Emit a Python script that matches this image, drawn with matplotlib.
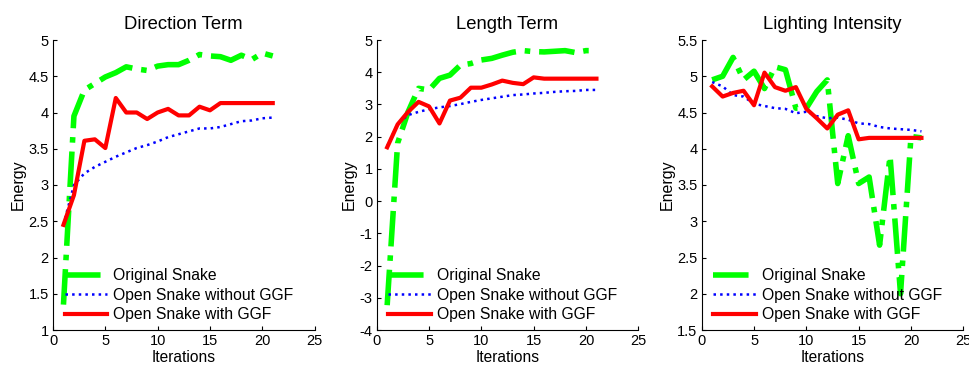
import matplotlib
matplotlib.use("Agg")
import matplotlib.pyplot as plt
import numpy as np

plt.rcParams['font.family'] = ['Liberation Sans', 'DejaVu Sans']

iterations = list(range(1, 22))
labels = ["Original Snake", "Open Snake without GGF", "Open Snake with GGF"]

# Direction Term
dir_orig = [1.35, 3.95, 4.31, 4.40, 4.49, 4.55, 4.63, 4.60, 4.58, 4.64, 4.66,
            4.66, 4.72, 4.80, 4.78, 4.77, 4.72, 4.79, 4.73, 4.82, 4.78]
dir_open = [2.45, 3.00, 3.16, 3.25, 3.32, 3.39, 3.45, 3.51, 3.55, 3.60, 3.66,
            3.70, 3.74, 3.78, 3.78, 3.80, 3.84, 3.88, 3.89, 3.92, 3.93]
dir_ggf = [2.45, 2.86, 3.61, 3.63, 3.51, 4.20, 4.00, 4.00, 3.91, 4.00, 4.05,
           3.96, 3.96, 4.08, 4.03, 4.13, 4.13, 4.13, 4.13, 4.13, 4.13]

# Length Term
len_orig = [-3.23, 1.80, 2.77, 3.50, 3.45, 3.81, 3.91, 4.22, 4.27, 4.38, 4.43,
            4.53, 4.62, 4.67, 4.64, 4.63, 4.65, 4.67, 4.61, 4.67, 4.67]
len_open = [1.70, 2.40, 2.67, 2.77, 2.85, 2.91, 2.95, 3.01, 3.08, 3.14, 3.19,
            3.24, 3.29, 3.31, 3.34, 3.36, 3.39, 3.41, 3.42, 3.45, 3.45]
len_ggf = [1.67, 2.38, 2.77, 3.08, 2.94, 2.41, 3.12, 3.21, 3.52, 3.52, 3.62,
           3.74, 3.67, 3.63, 3.84, 3.80, 3.80, 3.80, 3.80, 3.80, 3.80]

# Lighting Intensity
light_orig = [4.95, 5.00, 5.26, 4.95, 5.07, 4.83, 5.13, 5.09, 4.56, 4.56, 4.79,
              4.95, 3.52, 4.18, 3.52, 3.61, 2.67, 3.90, 2.00, 4.17, 4.15]
light_open = [4.92, 4.86, 4.74, 4.72, 4.62, 4.59, 4.56, 4.55, 4.49, 4.51, 4.45,
              4.42, 4.43, 4.40, 4.35, 4.34, 4.30, 4.28, 4.27, 4.26, 4.24]
light_ggf = [4.86, 4.72, 4.77, 4.80, 4.60, 5.05, 4.85, 4.80, 4.85, 4.55, 4.42,
             4.28, 4.47, 4.53, 4.13, 4.15, 4.15, 4.15, 4.15, 4.15, 4.15]

panels = [
    ("Direction Term", dir_orig, dir_open, dir_ggf, (1, 5), np.arange(1, 5.01, 0.5)),
    ("Length Term", len_orig, len_open, len_ggf, (-4, 5), np.arange(-4, 5.01, 1)),
    ("Lighting Intensity", light_orig, light_open, light_ggf, (1.5, 5.5), np.arange(1.5, 5.51, 0.5)),
]

fig = plt.figure(figsize=(9.69, 3.65), dpi=100)
lefts = [53, 376.7, 701.7]
W, H = 969.0, 365.0

for left, (title, orig, opn, ggf, ylim, yticks) in zip(lefts, panels):
    ax = fig.add_axes([left / W, (H - 330) / H, 261.6 / W, 290 / H])
    ax.plot(iterations, orig, color='#00ff00', linestyle='-.', linewidth=4, label=labels[0])
    ax.plot(iterations, opn, color='#0000ff', linestyle=':', linewidth=1.8, label=labels[1])
    ax.plot(iterations, ggf, color='#ff0000', linestyle='-', linewidth=3, label=labels[2])
    ax.set_xlim(0, 25)
    ax.set_ylim(*ylim)
    ax.set_xticks(range(0, 26, 5))
    ax.set_yticks(yticks)
    ax.set_yticklabels(['%g' % t for t in yticks])
    ax.spines['top'].set_visible(False)
    ax.spines['right'].set_visible(False)
    ax.tick_params(direction='in', labelsize=10.5, length=3, pad=3)
    ax.set_title(title, fontsize=13.3, pad=8)
    ax.set_xlabel("Iterations", fontsize=11.2, labelpad=1)
    ax.set_ylabel("Energy", fontsize=11.5, labelpad=2)
    ax.legend(loc='lower left', frameon=False, fontsize=11.3, handlelength=2.7,
              borderaxespad=0.3, labelspacing=0.28, handletextpad=0.4,
              borderpad=0.2, bbox_to_anchor=(0.015, 0.0))

fig.savefig("out.png", dpi=100)
